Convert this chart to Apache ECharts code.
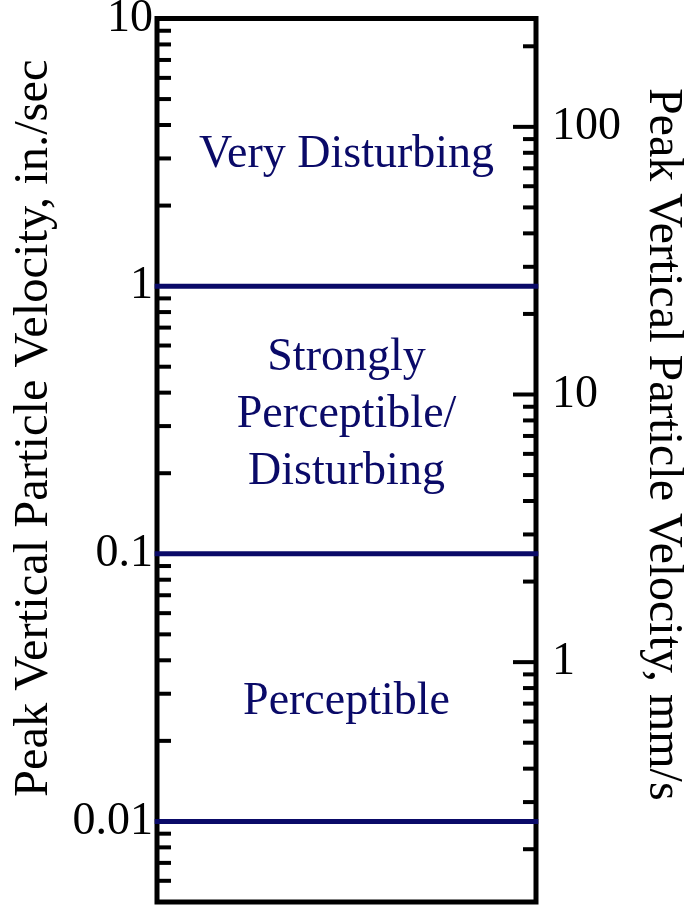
<!DOCTYPE html>
<html>
<head>
<meta charset="utf-8">
<script src="https://cdn.jsdelivr.net/npm/echarts@6/dist/echarts.min.js"></script>
<style>
  html, body { margin: 0; padding: 0; background: #fff; }
  #chart { width: 689px; height: 907px; }
</style>
</head>
<body>
<div id="chart"></div>
<script>
// Vibration perception zones, peak vertical particle velocity (in./sec, mm/s)
const IN_TO_MM = 25.4;
const leftMin = 0.005;
const leftMax = 10;

// Zone boundaries (in./sec)
const boundaries = [0.01, 0.1, 1];

// Zone captions and where they sit (x fraction across the plot, velocity in./sec)
const zoneNames = ['Very Disturbing', 'Strongly\nPerceptible/\nDisturbing', 'Perceptible'];
const zoneX = [0.5, 0.5, 0.5];
const zoneY = [3.1, 0.33, 0.028];

// Labelled ticks
const leftTickValues = [0.01, 0.1, 1, 10];
const leftTickLabels = ['0.01', '0.1', '1', '10'];
const rightTickValues = [1, 10, 100];
const rightTickLabels = ['1', '10', '100'];

// Minor ticks
const leftMinorTicks = [
  0.006, 0.007, 0.008, 0.009,
  0.02, 0.03, 0.04, 0.05, 0.06, 0.07, 0.08, 0.09,
  0.2, 0.3, 0.4, 0.5, 0.6, 0.7, 0.8, 0.9,
  2, 3, 4, 5, 6, 7, 8, 9
];
const rightMinorTicks = [
  0.2, 0.3, 0.4, 0.5, 0.6, 0.7, 0.8, 0.9,
  2, 3, 4, 5, 6, 7, 8, 9,
  20, 30, 40, 50, 60, 70, 80, 90,
  200
];

const NAVY = '#0a0a68';
const FONT = 'Liberation Serif';

function labelFor(values, labels) {
  return function (v) {
    for (let i = 0; i < values.length; i++) {
      if (Math.abs(Math.log10(v) - Math.log10(values[i])) < 1e-6) return labels[i];
    }
    return '';
  };
}

function tickRenderer(len, dir) {
  return function (params, api) {
    const p = api.coord([api.value(0), api.value(1)]);
    return {
      type: 'line',
      shape: { x1: p[0], y1: p[1], x2: p[0] + dir * len, y2: p[1] },
      style: { stroke: '#000', lineWidth: 4 }
    };
  };
}

const chart = echarts.init(document.getElementById('chart'), null, { renderer: 'canvas' });

const option = {
  animation: false,
  backgroundColor: '#fff',
  grid: {
    left: 157, top: 18.5, right: 153, bottom: 5,
    show: true, borderColor: '#000', borderWidth: 5,
    outerBoundsMode: 'none'
  },
  xAxis: { type: 'value', min: 0, max: 1, show: false },
  yAxis: [
    {
      type: 'log', logBase: 10, min: leftMin, max: leftMax,
      position: 'left',
      axisLine: { show: false }, axisTick: { show: false },
      splitLine: { show: false }, minorTick: { show: false },
      axisLabel: {
        formatter: labelFor(leftTickValues, leftTickLabels),
        fontFamily: FONT, fontSize: 46, color: '#000', margin: 4
      },
      name: 'Peak Vertical Particle Velocity, in./sec',
      nameLocation: 'middle', nameRotate: 90, nameGap: 98,
      nameTextStyle: { fontFamily: FONT, fontSize: 48.5, color: '#000', padding: [0, 0, 0, 64] }
    },
    {
      type: 'log', logBase: 10, min: leftMin * IN_TO_MM, max: leftMax * IN_TO_MM,
      position: 'right',
      axisLine: { show: false }, axisTick: { show: false },
      splitLine: { show: false }, minorTick: { show: false },
      axisLabel: {
        formatter: labelFor(rightTickValues, rightTickLabels),
        fontFamily: FONT, fontSize: 46, color: '#000', margin: 16
      },
      name: 'Peak Vertical Particle Velocity, mm/s',
      nameLocation: 'middle', nameRotate: -90, nameGap: 103,
      nameTextStyle: { fontFamily: FONT, fontSize: 48, color: '#000', padding: [0, 32, 0, 0] }
    }
  ],
  series: [
    // left minor ticks
    {
      type: 'custom', xAxisIndex: 0, yAxisIndex: 0, silent: true, clip: false,
      renderItem: tickRenderer(14, 1),
      data: leftMinorTicks.map(v => [0, v]), z: 3
    },
    // right minor ticks
    {
      type: 'custom', xAxisIndex: 0, yAxisIndex: 1, silent: true, clip: false,
      renderItem: tickRenderer(13, -1),
      data: rightMinorTicks.map(v => [1, v]), z: 3
    },
    // right major ticks
    {
      type: 'custom', xAxisIndex: 0, yAxisIndex: 1, silent: true, clip: false,
      renderItem: tickRenderer(23, -1),
      data: rightTickValues.map(v => [1, v]), z: 3
    },
    // zone boundaries
    ...boundaries.map(b => ({
      type: 'line', xAxisIndex: 0, yAxisIndex: 0, silent: true,
      symbol: 'none', z: 4,
      lineStyle: { color: NAVY, width: 5 },
      data: [[-0.006, b], [1.006, b]]
    })),
    // zone captions
    {
      type: 'scatter', xAxisIndex: 0, yAxisIndex: 0, silent: true,
      symbolSize: 0,
      itemStyle: { opacity: 1 },
      data: zoneNames.map((n, i) => ({ name: n, value: [zoneX[i], zoneY[i]] })),
      label: {
        show: true, position: 'inside', opacity: 1,
        formatter: p => p.name,
        fontFamily: FONT, fontSize: 46, color: NAVY, lineHeight: 57, align: 'center'
      }
    }
  ]
};

chart.setOption(option);
</script>
</body>
</html>
